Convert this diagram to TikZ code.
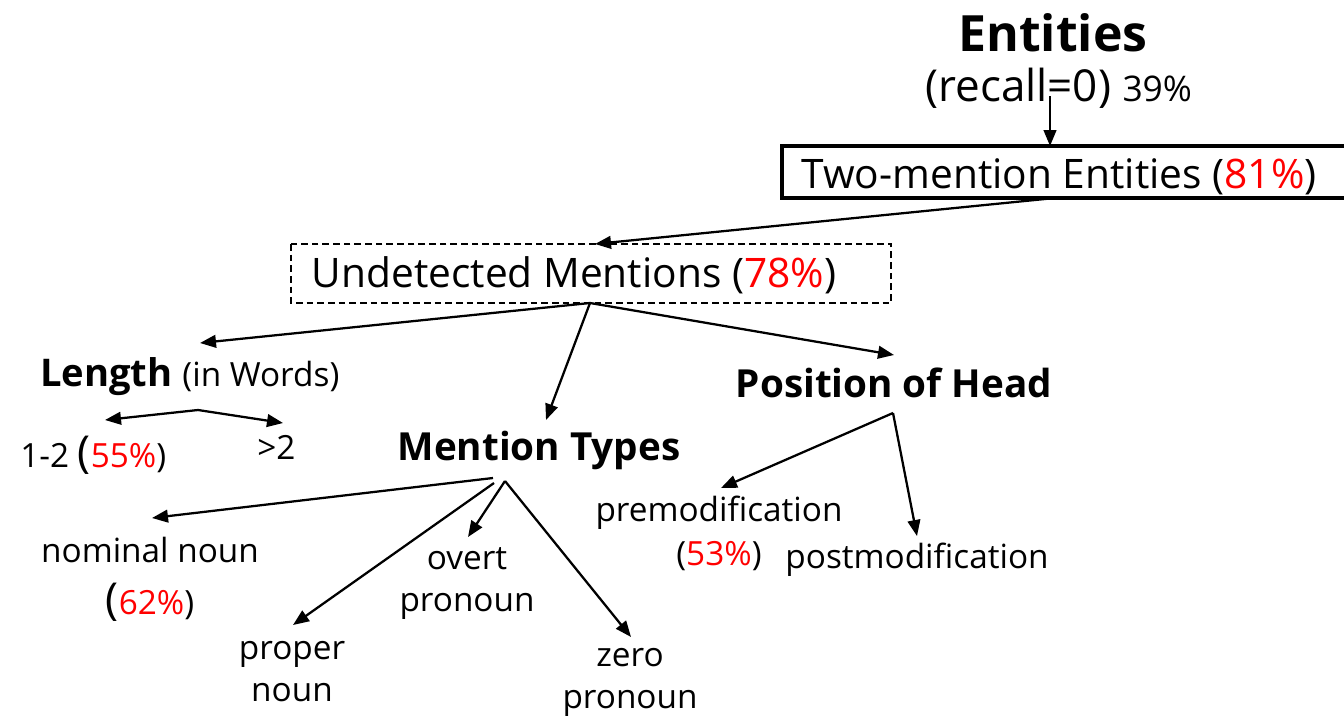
\documentclass[tikz,border=0pt]{standalone}
\usepackage{fontspec}
\setmainfont{Open Sans}
\usetikzlibrary{arrows.meta}
\definecolor{pct}{RGB}{255,0,0}
\newcommand{\fs}[1]{\fontsize{#1}{1.26\dimexpr#1pt\relax}\selectfont}
\newcommand{\pc}[1]{\textcolor{pct}{#1}}
\begin{document}
\begin{tikzpicture}[x=0.75pt,y=-0.75pt,
  lbl/.style={inner sep=0pt,align=center,font=\fs{25}},
  head/.style={inner sep=0pt,font=\fs{29}\bfseries},
  arr/.style={draw,line width=1.7pt,-{Triangle[length=12pt,width=9.5pt]}},
  ln/.style={draw,line width=1.7pt}]
\useasboundingbox (0,0) rectangle (1344,717);
% top
\node[inner sep=0pt,font=\fs{37.5}\bfseries] (ent) at (1053,33) {Entities};
\node[inner sep=0pt,anchor=base west] (rec) at (925,101) {\fs{33}(recall=0) \fs{26.5}39\%};
\coordinate (recb) at (1050,96);
\draw[line width=2.5pt] (782,146) rectangle (1360,198);
\node[inner sep=0pt,font=\fs{30.5}] (two) at (1059,177) {Two-mention Entities (\pc{81\%})};
\coordinate (twob) at (1055,198);
\coordinate (twot) at (1050,146);
\draw[arr] (recb) -- (twot);
% undetected
\draw[line width=1.1pt,dash pattern=on 5pt off 3pt] (291,244) rectangle (891,303);
\node[inner sep=0pt,font=\fs{30.5}] (und) at (574,275) {Undetected Mentions (\pc{78\%})};
\coordinate (undt) at (595,244);
\coordinate (undb) at (590,303);
\draw[arr] (twob) -- (undt);
% categories
\node[inner sep=0pt,anchor=base west] (len) at (40,386) {\fs{28.6}\bfseries Length \fs{25}\mdseries(in Words)};
\node[head] (mt) at (539,450) {Mention Types};
\node[head] (poh) at (894,383) {Position of Head};
\coordinate (lenA) at (200,343);
\coordinate (mtA) at (546,420);
\coordinate (pohA) at (894,355);
\draw[arr] (undb) -- (lenA);
\draw[arr] (undb) -- (mtA);
\draw[arr] (undb) -- (pohA);
% length children
\coordinate (lenB) at (198,410);
\node[inner sep=0pt,anchor=base west] (one) at (20,467) {\fs{25}1-2 {\fs{33}(}\pc{55\%})};
\node[lbl,anchor=base west] (gt) at (257,459) {>2};
\draw[arr] (lenB) -- (105,420) coordinate (oneA);
\draw[arr] (lenB) -- (283,423) coordinate (gtA);
% mention types children
\coordinate (mtB1) at (493,478);
\coordinate (mtB2) at (494,483);
\coordinate (mtB3) at (505,481);
\node[lbl] (nom) at (150,550) {nominal noun};
\node[inner sep=0pt] (nomp) at (150,602) {\fs{33}(\fs{25}\pc{62\%})};
\node[lbl] (prop) at (292,672) {proper\\noun};
\node[lbl] (overt) at (467,584) {overt\\pronoun};
\node[lbl] (zero) at (630,682) {zero\\pronoun};
\draw[arr] (mtB1) -- (152,518) coordinate (nomA);
\draw[arr] (mtB2) -- (293,625) coordinate (propA);
\draw[arr] (mtB3) -- (468,537) coordinate (overtA);
\draw[arr] (mtB3) -- (631,637) coordinate (zeroA);
% position children
\coordinate (pohB) at (893,413);
\node[lbl] (pre) at (719,513) {premodification};
\node[lbl] (prep) at (719,556) {(\pc{53\%})};
\node[lbl] (post) at (917,560) {postmodification};
\draw[arr] (pohB) -- (721,488) coordinate (preA);
\draw[arr] (pohB) -- (917,536) coordinate (postA);
\end{tikzpicture}
\end{document}
